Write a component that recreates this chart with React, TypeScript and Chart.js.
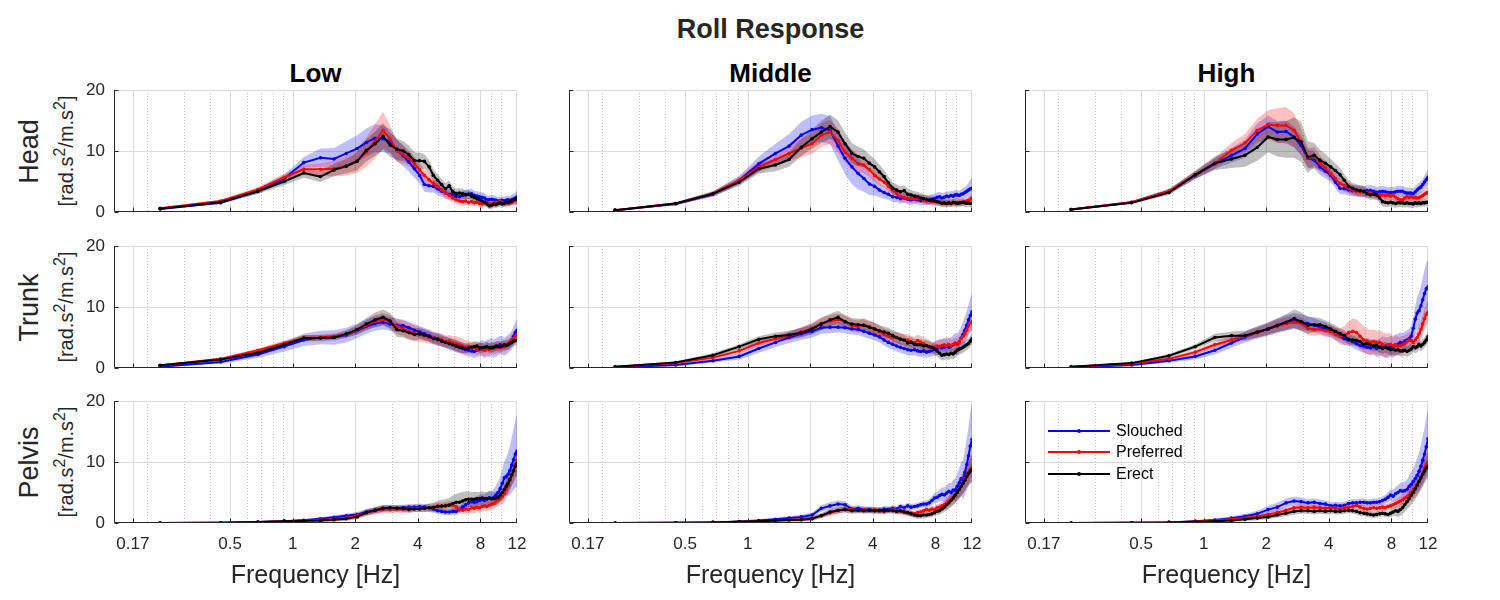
import React, { useEffect, useRef } from 'react';
import { Chart, registerables } from 'chart.js';

Chart.register(...registerables);

// ---------- axes / categories ----------
const FREQ = [
  0.23, 0.45, 0.68, 0.91, 1.13, 1.36, 1.58, 1.81, 2.04, 2.26,
  2.49, 2.72, 2.94, 3.17, 3.40, 3.62, 3.85, 4.08, 4.30, 4.53,
  4.75, 4.98, 5.21, 5.43, 5.66, 5.89, 6.11, 6.34, 6.57, 6.79,
  7.02, 7.25, 7.47, 7.70, 7.92, 8.15, 8.38, 8.60, 8.83, 9.06,
  9.28, 9.51, 9.74, 9.96, 10.19, 10.42, 10.64, 10.87, 11.09, 11.32,
  11.55, 11.77, 12.0,
];
const X_MAJOR = [0.17, 0.5, 1, 2, 4, 8, 12];
const X_MINOR = [0.2, 0.3, 0.4, 0.6, 0.7, 0.8, 0.9, 3, 5, 6, 7, 9, 10];
const Y_TICKS = [0, 10, 20];
const ROWS = ['Head', 'Trunk', 'Pelvis'];
const COLS = ['Low', 'Middle', 'High'];
const POSTURES = ['Slouched', 'Preferred', 'Erect'];
const LINE_COLORS = ['#0000ff', '#ff0000', '#000000'];
const BAND_COLORS = ['rgba(0,0,255,0.25)', 'rgba(255,0,0,0.25)', 'rgba(0,0,0,0.25)'];

// ---------- Head ----------
const HEAD_LOW_S = [
  0.5, 1.5, 3.4, 5.5, 8.1, 8.9, 8.7, 9.6, 10.4, 11.4,
  12.1, 12.0, 11.6, 10.1, 9.2, 8.2, 7.1, 6.0, 4.5, 4.3,
  4.2, 3.8, 3.4, 3.1, 2.9, 2.8, 2.6, 2.5, 2.7, 2.9,
  2.9, 3.0, 2.7, 2.6, 2.5, 2.4, 2.3, 2.0, 2.0, 2.1,
  2.0, 1.9, 1.8, 1.8, 1.9, 1.8, 1.9, 2.0, 1.8, 2.0,
  2.1, 2.2, 2.4,
];
const HEAD_LOW_P = [
  0.6, 1.8, 3.7, 5.7, 7.0, 7.0, 7.1, 7.6, 8.4, 9.8,
  11.6, 13.4, 12.0, 10.0, 9.4, 8.8, 7.9, 6.9, 6.0, 5.3,
  4.7, 4.2, 3.6, 3.1, 2.7, 2.3, 2.0, 1.8, 1.7, 1.8,
  1.6, 1.7, 1.5, 1.6, 1.4, 1.3, 1.5, 1.6, 1.4, 1.3,
  1.4, 1.6, 1.5, 1.7, 1.5, 1.4, 1.5, 1.6, 1.5, 1.6,
  1.8, 1.9, 2.0,
];
const HEAD_LOW_E = [
  0.55, 1.6, 3.4, 5.0, 6.4, 5.8, 6.9, 7.5, 8.3, 10.1,
  11.2, 12.4, 11.0, 10.3, 10.0, 9.4, 8.4, 8.4, 8.3, 7.4,
  6.0, 5.2, 4.5, 3.8, 4.3, 3.3, 3.0, 3.1, 3.0, 2.8,
  2.9, 2.6, 2.4, 2.2, 2.0, 1.8, 1.6, 1.3, 1.0, 1.1,
  1.3, 1.2, 1.4, 1.5, 1.3, 1.4, 1.6, 1.5, 1.7, 1.8,
  2.0, 2.1, 2.2,
];
const HEAD_LOW_S_SD = [
  0.1, 0.2, 0.4, 0.6, 0.9, 1.5, 1.8, 2.0, 2.2, 2.3,
  2.3, 2.2, 2.0, 1.8, 1.7, 1.6, 1.5, 1.3, 1.2, 1.1,
  1.0, 1.0, 0.9, 0.9, 0.9, 0.8, 0.8, 0.8, 0.8, 0.8,
  0.8, 0.8, 0.8, 0.8, 0.8, 0.8, 0.8, 0.7, 0.7, 0.7,
  0.7, 0.7, 0.7, 0.7, 0.7, 0.7, 0.7, 0.7, 0.8, 0.8,
  0.9, 1.0, 1.2,
];
const HEAD_LOW_P_SD = [
  0.1, 0.2, 0.4, 0.6, 0.8, 1.0, 1.3, 1.6, 2.0, 2.4,
  2.8, 3.0, 2.2, 1.8, 1.5, 1.3, 1.2, 1.1, 1.0, 1.0,
  0.9, 0.9, 0.8, 0.8, 0.8, 0.7, 0.7, 0.7, 0.7, 0.6,
  0.6, 0.6, 0.6, 0.6, 0.6, 0.6, 0.6, 0.6, 0.6, 0.6,
  0.6, 0.6, 0.6, 0.6, 0.6, 0.6, 0.6, 0.6, 0.6, 0.6,
  0.7, 0.7, 0.8,
];
const HEAD_LOW_E_SD = [
  0.1, 0.2, 0.4, 0.6, 0.8, 0.9, 1.0, 1.2, 1.5, 1.8,
  2.0, 2.2, 2.0, 1.8, 1.6, 1.5, 1.4, 1.3, 1.2, 1.1,
  1.0, 1.0, 0.9, 0.9, 0.9, 0.8, 0.8, 0.8, 0.8, 0.7,
  0.7, 0.7, 0.7, 0.7, 0.7, 0.7, 0.6, 0.6, 0.6, 0.6,
  0.6, 0.6, 0.6, 0.6, 0.6, 0.6, 0.6, 0.6, 0.6, 0.6,
  0.6, 0.6, 0.7,
];

const HEAD_MID_S = [
  0.3, 1.3, 2.9, 5.2, 7.9, 9.6, 10.8, 12.6, 13.5, 13.8,
  13.4, 10.8, 8.8, 7.4, 6.3, 5.5, 4.6, 4.2, 3.6, 3.2,
  2.9, 2.5, 2.4, 2.2, 2.3, 2.1, 2.0, 2.1, 2.0, 1.9,
  2.0, 1.9, 2.0, 2.1, 2.2, 2.4, 2.5, 2.3, 2.4, 2.6,
  2.5, 2.7, 2.6, 2.8, 2.8, 2.7, 2.9, 3.0, 3.2, 3.4,
  3.6, 3.8, 3.9,
];
const HEAD_MID_P = [
  0.3, 1.4, 3.0, 5.2, 7.4, 8.6, 9.6, 10.5, 11.2, 12.6,
  13.1, 11.7, 9.8, 8.8, 7.9, 7.7, 6.9, 6.0, 5.4, 4.9,
  4.2, 3.6, 3.1, 2.5, 2.4, 2.2, 2.2, 2.1, 2.2, 2.2,
  2.0, 1.8, 1.9, 1.7, 1.8, 1.7, 1.6, 1.5, 1.4, 1.4,
  1.5, 1.4, 1.5, 1.5, 1.6, 1.5, 1.6, 1.6, 1.7, 1.8,
  1.9, 2.1, 2.3,
];
const HEAD_MID_E = [
  0.3, 1.4, 3.0, 4.9, 7.1, 7.7, 8.6, 10.6, 12.0, 13.1,
  14.0, 13.1, 11.2, 9.6, 9.1, 8.8, 8.0, 7.4, 6.6, 5.8,
  4.8, 3.9, 3.6, 3.3, 3.5, 2.9, 2.8, 2.6, 2.5, 2.3,
  2.2, 2.1, 1.9, 2.0, 1.8, 1.7, 1.6, 1.4, 1.5, 1.4,
  1.5, 1.4, 1.6, 1.5, 1.4, 1.5, 1.5, 1.6, 1.5, 1.4,
  1.5, 1.4, 1.4,
];
const HEAD_MID_S_SD = [
  0.1, 0.2, 0.4, 0.7, 1.2, 1.6, 2.0, 2.2, 2.3, 2.3,
  2.3, 2.4, 2.6, 2.8, 2.6, 2.2, 1.8, 1.5, 1.2, 1.0,
  0.9, 0.9, 0.8, 0.8, 0.8, 0.8, 0.8, 0.8, 0.8, 0.8,
  0.8, 0.8, 0.8, 0.8, 0.8, 0.8, 0.8, 0.8, 0.8, 0.8,
  0.8, 0.8, 0.8, 0.8, 0.8, 0.8, 0.8, 0.9, 0.9, 1.0,
  1.2, 1.5, 1.8,
];
const HEAD_MID_P_SD = [
  0.1, 0.2, 0.4, 0.6, 0.9, 1.1, 1.3, 1.5, 1.7, 1.9,
  2.0, 1.9, 1.7, 1.5, 1.4, 1.3, 1.2, 1.1, 1.0, 0.9,
  0.9, 0.8, 0.8, 0.8, 0.8, 0.7, 0.7, 0.7, 0.7, 0.7,
  0.6, 0.6, 0.6, 0.6, 0.6, 0.6, 0.6, 0.6, 0.6, 0.6,
  0.6, 0.6, 0.6, 0.6, 0.6, 0.6, 0.6, 0.6, 0.6, 0.6,
  0.6, 0.7, 0.7,
];
const HEAD_MID_E_SD = [
  0.1, 0.2, 0.4, 0.6, 0.8, 1.0, 1.2, 1.4, 1.6, 1.8,
  2.0, 1.9, 1.8, 1.7, 1.6, 1.5, 1.4, 1.3, 1.2, 1.1,
  1.0, 1.0, 0.9, 0.9, 0.9, 0.9, 0.8, 0.8, 0.8, 0.8,
  0.8, 0.7, 0.7, 0.7, 0.7, 0.7, 0.6, 0.6, 0.6, 0.6,
  0.6, 0.6, 0.6, 0.6, 0.6, 0.6, 0.6, 0.6, 0.6, 0.6,
  0.6, 0.6, 0.6,
];

const HEAD_HIGH_S = [
  0.4, 1.6, 3.4, 6.0, 7.9, 9.3, 10.4, 12.8, 14.0, 13.1,
  13.2, 12.3, 10.9, 8.8, 8.5, 7.4, 6.7, 6.0, 4.9, 3.9,
  3.8, 3.6, 3.5, 3.5, 3.4, 3.4, 3.5, 3.5, 3.4, 3.2,
  3.3, 3.4, 3.3, 3.2, 3.2, 3.2, 3.3, 3.4, 3.4, 3.4,
  3.2, 3.1, 3.1, 3.1, 3.0, 3.3, 3.6, 3.9, 4.1, 4.5,
  4.9, 5.3, 5.7,
];
const HEAD_HIGH_P = [
  0.4, 1.6, 3.4, 6.1, 8.0, 10.1, 11.3, 13.4, 14.3, 14.2,
  14.2, 13.4, 11.5, 8.8, 9.1, 8.0, 7.2, 6.3, 5.5, 4.7,
  4.3, 3.9, 3.6, 3.4, 3.3, 3.2, 3.1, 3.1, 2.9, 2.8,
  2.8, 2.8, 2.7, 2.8, 2.6, 2.8, 2.4, 2.2, 2.0, 2.0,
  2.3, 2.5, 2.4, 2.5, 2.3, 2.4, 2.3, 2.4, 2.5, 2.7,
  2.9, 3.1, 3.2,
];
const HEAD_HIGH_E = [
  0.4, 1.5, 3.2, 6.1, 8.0, 8.7, 9.3, 10.6, 12.3, 11.9,
  11.9, 12.2, 11.5, 9.0, 9.3, 8.5, 8.0, 7.4, 6.8, 6.1,
  5.2, 4.2, 3.9, 3.6, 3.5, 3.4, 3.0, 2.8, 2.9, 2.8,
  2.3, 1.7, 1.6, 1.5, 1.6, 1.5, 1.4, 1.5, 1.5, 1.5,
  1.4, 1.5, 1.4, 1.4, 1.3, 1.5, 1.4, 1.5, 1.4, 1.5,
  1.5, 1.6, 1.6,
];
const HEAD_HIGH_S_SD = [
  0.1, 0.2, 0.4, 0.6, 0.9, 1.2, 1.5, 1.7, 1.8, 1.8,
  1.8, 1.7, 1.6, 1.5, 1.4, 1.3, 1.2, 1.1, 1.0, 1.0,
  0.9, 0.9, 0.9, 0.9, 0.9, 0.9, 0.9, 0.9, 0.9, 0.9,
  0.9, 0.9, 0.9, 0.9, 0.9, 0.9, 0.9, 0.9, 0.9, 0.9,
  0.9, 0.9, 0.9, 0.9, 0.9, 0.9, 0.9, 0.9, 1.0, 1.0,
  1.1, 1.2, 1.3,
];
const HEAD_HIGH_P_SD = [
  0.1, 0.2, 0.4, 0.6, 0.9, 1.2, 1.5, 1.9, 2.4, 2.8,
  3.0, 2.8, 2.2, 1.7, 1.5, 1.3, 1.2, 1.1, 1.0, 1.0,
  0.9, 0.9, 0.9, 0.9, 0.9, 0.8, 0.8, 0.8, 0.8, 0.8,
  0.8, 0.8, 0.8, 0.8, 0.8, 0.8, 0.8, 0.8, 0.8, 0.8,
  0.8, 0.8, 0.8, 0.8, 0.8, 0.8, 0.8, 0.8, 0.8, 0.8,
  0.9, 0.9, 1.0,
];
const HEAD_HIGH_E_SD = [
  0.1, 0.2, 0.4, 0.7, 1.1, 1.5, 1.9, 2.2, 2.5, 2.8,
  3.0, 3.3, 3.3, 2.6, 2.0, 1.7, 1.5, 1.3, 1.2, 1.1,
  1.0, 1.0, 0.9, 0.9, 0.9, 0.9, 0.8, 0.8, 0.8, 0.8,
  0.8, 0.8, 0.8, 0.7, 0.7, 0.7, 0.7, 0.7, 0.7, 0.7,
  0.7, 0.7, 0.7, 0.7, 0.7, 0.7, 0.7, 0.7, 0.6, 0.6,
  0.6, 0.6, 0.6,
];

// ---------- Trunk ----------
const TRUNK_LOW_S = [
  0.2, 1.0, 2.2, 3.5, 4.6, 5.0, 5.0, 5.4, 6.1, 6.8,
  7.3, 7.5, 7.2, 7.0, 6.9, 6.6, 6.2, 5.9, 5.6, 5.3,
  5.0, 4.8, 4.5, 4.3, 4.0, 3.8, 3.6, 3.4, 3.2, 3.0,
  2.9, 2.8, 2.7, 2.9, 3.1, 3.3, 3.0, 3.2, 3.3, 3.4,
  3.2, 3.4, 3.6, 3.8, 3.7, 3.5, 3.7, 3.9, 4.2, 4.6,
  5.2, 5.8, 6.2,
];
const TRUNK_LOW_P = [
  0.4, 1.5, 2.9, 4.1, 4.9, 5.0, 5.2, 5.5, 6.2, 7.0,
  7.7, 8.0, 7.6, 6.8, 6.5, 6.0, 5.7, 5.5, 5.3, 5.0,
  4.9, 4.6, 4.7, 4.3, 4.4, 4.1, 4.0, 3.8, 3.6, 3.4,
  3.5, 3.2, 3.4, 3.0, 3.3, 3.1, 2.9, 3.2, 3.0, 3.4,
  3.2, 3.3, 3.5, 3.4, 3.6, 3.5, 3.8, 4.0, 4.2, 4.6,
  4.8, 5.2, 5.5,
];
const TRUNK_LOW_E = [
  0.45, 1.4, 2.5, 3.8, 4.9, 4.9, 5.0, 5.6, 6.3, 7.2,
  7.9, 8.3, 7.7, 6.3, 6.1, 5.8, 5.5, 5.6, 5.4, 5.2,
  4.8, 4.7, 4.4, 4.2, 4.0, 3.8, 3.6, 3.4, 3.3, 3.2,
  3.3, 3.4, 3.5, 3.6, 3.3, 3.3, 3.4, 3.5, 3.3, 3.3,
  3.4, 3.6, 3.5, 3.5, 3.6, 3.8, 3.7, 3.8, 4.0, 4.2,
  4.4, 4.5, 4.5,
];
const TRUNK_LOW_S_SD = [
  0.1, 0.3, 0.5, 0.8, 1.0, 1.1, 1.2, 1.2, 1.2, 1.2,
  1.2, 1.2, 1.1, 1.1, 1.0, 1.0, 1.0, 1.0, 1.0, 1.0,
  1.0, 1.0, 1.0, 1.0, 1.0, 1.0, 1.0, 1.0, 1.0, 1.0,
  1.0, 1.0, 1.1, 1.1, 1.2, 1.3, 1.4, 1.4, 1.5, 1.5,
  1.5, 1.5, 1.5, 1.5, 1.5, 1.5, 1.5, 1.5, 1.5, 1.5,
  1.6, 1.7, 1.8,
];
const TRUNK_LOW_P_SD = [
  0.1, 0.2, 0.3, 0.4, 0.5, 0.5, 0.5, 0.6, 0.7, 0.8,
  1.0, 1.0, 1.1, 1.2, 1.3, 1.4, 1.3, 1.2, 1.1, 1.0,
  1.0, 1.0, 1.0, 1.0, 1.0, 1.1, 1.2, 1.2, 1.2, 1.1,
  1.1, 1.0, 1.0, 1.0, 1.0, 1.0, 1.0, 1.0, 1.0, 1.0,
  1.0, 1.0, 1.0, 1.0, 1.0, 1.0, 1.0, 1.0, 1.0, 1.0,
  1.0, 1.0, 1.0,
];
const TRUNK_LOW_E_SD = [
  0.1, 0.2, 0.3, 0.4, 0.5, 0.5, 0.5, 0.6, 0.8, 1.0,
  1.2, 1.3, 1.3, 1.2, 1.1, 1.0, 1.0, 0.9, 0.9, 0.9,
  0.9, 0.9, 0.9, 0.9, 0.9, 0.9, 0.9, 0.9, 0.9, 0.8,
  0.8, 0.8, 0.8, 0.8, 0.8, 0.8, 0.8, 0.8, 0.8, 0.8,
  0.8, 0.8, 0.8, 0.8, 0.8, 0.8, 0.8, 0.8, 0.8, 0.8,
  0.8, 0.8, 0.8,
];

const TRUNK_MID_S = [
  0.1, 0.5, 1.2, 1.9, 3.2, 4.2, 5.0, 5.6, 6.0, 6.6,
  6.7, 6.7, 6.6, 6.4, 6.3, 6.0, 5.7, 5.4, 5.1, 4.6,
  4.2, 3.9, 3.6, 3.4, 3.2, 3.0, 2.9, 3.0, 2.8, 2.7,
  2.8, 2.6, 2.7, 2.9, 3.1, 3.3, 3.5, 3.3, 3.4, 3.6,
  3.4, 3.6, 3.8, 4.0, 3.9, 4.3, 4.9, 5.5, 6.2, 7.0,
  7.9, 8.6, 9.2,
];
const TRUNK_MID_P = [
  0.2, 0.8, 1.7, 2.8, 4.1, 4.8, 5.3, 5.9, 6.5, 7.3,
  7.7, 7.9, 7.6, 7.0, 6.8, 7.1, 6.7, 6.4, 6.0, 5.5,
  5.2, 5.0, 4.9, 4.8, 4.5, 4.6, 4.3, 4.1, 4.5, 4.2,
  4.0, 3.7, 3.5, 3.2, 3.4, 3.6, 3.5, 3.7, 3.8, 3.6,
  3.9, 3.7, 3.8, 4.1, 3.9, 4.3, 4.8, 5.2, 5.6, 6.2,
  6.9, 7.4, 7.6,
];
const TRUNK_MID_E = [
  0.2, 0.9, 2.1, 3.5, 4.7, 5.2, 5.4, 5.8, 6.4, 7.2,
  7.9, 8.3, 7.6, 7.2, 7.1, 7.0, 6.7, 6.4, 6.1, 5.9,
  5.7, 5.3, 5.0, 4.7, 4.6, 4.1, 4.2, 3.9, 3.8, 3.8,
  3.6, 3.7, 3.5, 3.4, 3.1, 2.8, 2.4, 2.1, 2.2, 2.3,
  2.2, 2.4, 2.3, 2.6, 2.9, 3.1, 3.2, 3.4, 3.6, 3.8,
  4.0, 4.4, 4.8,
];
const TRUNK_MID_S_SD = [
  0.1, 0.2, 0.3, 0.5, 0.7, 0.8, 0.9, 1.0, 1.0, 1.0,
  1.0, 0.9, 0.9, 0.9, 0.9, 0.9, 0.9, 0.9, 0.9, 0.9,
  0.9, 0.9, 0.9, 0.9, 0.9, 0.9, 0.9, 0.9, 0.9, 0.9,
  0.9, 0.9, 0.9, 1.0, 1.1, 1.2, 1.3, 1.4, 1.5, 1.5,
  1.5, 1.5, 1.6, 1.7, 1.8, 1.9, 2.0, 2.1, 2.2, 2.3,
  2.5, 2.8, 3.0,
];
const TRUNK_MID_P_SD = [
  0.1, 0.2, 0.3, 0.4, 0.5, 0.6, 0.7, 0.8, 0.9, 1.0,
  1.0, 1.0, 1.0, 1.0, 1.0, 1.1, 1.1, 1.0, 1.0, 1.0,
  1.0, 1.0, 1.0, 1.0, 1.0, 1.0, 1.0, 1.0, 1.0, 1.1,
  1.1, 1.1, 1.1, 1.0, 1.0, 1.0, 1.0, 1.0, 1.0, 1.0,
  1.0, 1.0, 1.0, 1.0, 1.0, 1.0, 1.0, 1.1, 1.1, 1.2,
  1.3, 1.4, 1.5,
];
const TRUNK_MID_E_SD = [
  0.1, 0.2, 0.3, 0.4, 0.5, 0.6, 0.7, 0.8, 0.9, 1.0,
  1.0, 1.1, 1.1, 1.0, 1.0, 1.0, 1.0, 1.0, 0.9, 0.9,
  0.9, 0.9, 0.9, 0.9, 0.9, 0.9, 0.9, 0.9, 0.9, 0.9,
  0.9, 0.9, 0.9, 0.9, 0.9, 0.9, 0.9, 0.9, 0.9, 0.9,
  0.9, 0.9, 0.9, 0.9, 0.9, 0.9, 0.9, 0.9, 0.9, 0.9,
  0.9, 0.9, 0.9,
];

const TRUNK_HIGH_S = [
  0.1, 0.5, 1.2, 1.9, 2.9, 4.1, 5.1, 5.8, 6.4, 6.9,
  7.4, 7.7, 7.5, 7.3, 7.0, 6.7, 6.4, 6.1, 5.6, 5.2,
  4.8, 4.6, 4.3, 4.0, 3.7, 3.6, 3.4, 3.3, 3.5, 3.2,
  3.4, 3.6, 3.4, 3.3, 3.6, 3.4, 3.8, 3.9, 4.2, 4.1,
  4.4, 4.6, 4.8, 5.2, 6.5, 8.0, 9.0, 9.4, 10.2, 11.2,
  12.2, 13.0, 13.3,
];
const TRUNK_HIGH_P = [
  0.2, 0.7, 1.5, 2.6, 3.8, 4.6, 5.2, 5.8, 6.4, 6.9,
  7.3, 7.5, 7.3, 6.5, 6.3, 6.4, 6.1, 6.0, 5.6, 5.2,
  5.3, 5.8, 6.0, 5.8, 5.2, 4.6, 4.4, 4.2, 4.3, 4.1,
  4.2, 3.9, 3.7, 3.8, 3.9, 3.6, 3.8, 3.6, 3.7, 3.8,
  4.0, 4.3, 4.6, 4.5, 4.2, 4.6, 5.0, 5.6, 6.3, 7.2,
  8.1, 8.8, 9.1,
];
const TRUNK_HIGH_E = [
  0.2, 0.8, 2.0, 3.5, 5.0, 5.3, 5.3, 5.9, 6.4, 7.0,
  7.5, 8.1, 7.6, 7.0, 7.1, 7.1, 6.8, 6.4, 6.0, 5.6,
  5.3, 4.7, 4.6, 4.5, 4.3, 3.9, 4.0, 3.8, 3.6, 3.7,
  3.4, 3.2, 3.4, 3.2, 3.0, 3.1, 2.9, 3.0, 2.8, 2.8,
  2.9, 2.7, 2.9, 3.1, 3.5, 3.3, 3.5, 3.9, 3.6, 3.9,
  4.2, 4.6, 5.1,
];
const TRUNK_HIGH_S_SD = [
  0.1, 0.2, 0.3, 0.5, 0.7, 0.8, 0.9, 1.0, 1.1, 1.2,
  1.3, 1.3, 1.3, 1.2, 1.2, 1.1, 1.1, 1.0, 1.0, 1.0,
  1.0, 1.0, 1.0, 1.0, 1.0, 1.0, 1.1, 1.2, 1.3, 1.4,
  1.5, 1.6, 1.7, 1.7, 1.7, 1.7, 1.7, 1.7, 1.7, 1.6,
  1.6, 1.6, 1.6, 1.6, 1.8, 2.2, 2.6, 3.0, 3.3, 3.6,
  3.9, 4.2, 4.5,
];
const TRUNK_HIGH_P_SD = [
  0.1, 0.2, 0.3, 0.4, 0.5, 0.6, 0.7, 0.8, 0.9, 1.0,
  1.0, 1.0, 1.0, 1.0, 1.0, 1.0, 1.0, 1.0, 1.1, 1.3,
  1.6, 1.9, 2.1, 2.2, 2.2, 2.2, 2.1, 2.0, 2.0, 2.0,
  2.0, 2.0, 2.0, 1.9, 1.8, 1.7, 1.6, 1.5, 1.5, 1.4,
  1.4, 1.3, 1.3, 1.3, 1.3, 1.3, 1.3, 1.4, 1.5, 1.6,
  1.7, 1.8, 1.9,
];
const TRUNK_HIGH_E_SD = [
  0.1, 0.2, 0.3, 0.4, 0.6, 0.7, 0.8, 0.9, 1.0, 1.1,
  1.3, 1.5, 1.6, 1.4, 1.2, 1.1, 1.0, 1.0, 1.0, 0.9,
  0.9, 0.9, 0.9, 0.9, 0.9, 0.9, 0.9, 0.9, 0.9, 0.9,
  0.9, 0.9, 0.9, 0.9, 0.9, 0.9, 0.9, 0.9, 0.9, 0.9,
  0.9, 0.9, 0.9, 0.9, 0.9, 0.9, 0.9, 0.9, 0.9, 0.9,
  0.9, 0.9, 0.9,
];

// ---------- Pelvis ----------
const PELVIS_LOW_S = [
  0.0, 0.05, 0.15, 0.3, 0.45, 0.7, 0.95, 1.2, 1.4, 1.8,
  2.1, 2.3, 2.4, 2.4, 2.5, 2.6, 2.6, 2.7, 2.6, 2.5,
  2.3, 2.0, 1.9, 1.8, 1.8, 1.9, 1.9, 2.2, 2.6, 3.0,
  3.3, 3.5, 3.4, 3.5, 3.7, 3.8, 3.7, 3.9, 4.1, 4.0,
  4.2, 4.6, 5.0, 5.6, 6.5, 7.4, 7.6, 8.0, 8.6, 9.5,
  10.4, 11.3, 11.8,
];
const PELVIS_LOW_P = [
  0.0, 0.05, 0.15, 0.3, 0.4, 0.5, 0.6, 0.8, 1.2, 1.7,
  2.0, 2.3, 2.2, 2.3, 2.2, 2.3, 2.4, 2.4, 2.4, 2.5,
  2.6, 2.8, 2.7, 2.9, 3.0, 2.9, 2.7, 2.2, 2.1, 2.3,
  2.2, 2.5, 2.4, 2.6, 2.5, 2.7, 2.8, 2.7, 2.9, 3.1,
  3.2, 3.6, 3.8, 4.0, 4.3, 4.8, 5.5, 6.2, 7.0, 7.8,
  8.5, 9.5, 10.2,
];
const PELVIS_LOW_E = [
  0.0, 0.05, 0.15, 0.3, 0.35, 0.4, 0.55, 0.7, 1.0, 1.7,
  2.1, 2.4, 2.5, 2.4, 2.4, 2.2, 2.3, 2.3, 2.4, 2.5,
  2.5, 2.7, 2.8, 2.8, 2.9, 3.2, 3.4, 3.4, 3.6, 3.8,
  3.9, 3.9, 3.9, 4.0, 4.0, 4.1, 4.0, 4.0, 4.1, 4.0,
  4.0, 4.1, 4.2, 4.6, 5.0, 5.5, 6.0, 6.5, 7.2, 7.9,
  8.6, 9.3, 9.8,
];
const PELVIS_LOW_S_SD = [
  0.02, 0.05, 0.1, 0.15, 0.2, 0.25, 0.3, 0.35, 0.4, 0.5,
  0.5, 0.5, 0.5, 0.5, 0.5, 0.5, 0.5, 0.5, 0.5, 0.5,
  0.5, 0.5, 0.5, 0.5, 0.5, 0.5, 0.6, 0.6, 0.7, 0.7,
  0.8, 0.8, 0.8, 0.9, 0.9, 1.0, 1.0, 1.1, 1.2, 1.3,
  1.4, 1.6, 1.8, 2.0, 2.3, 2.7, 3.1, 3.5, 4.0, 4.5,
  5.0, 5.5, 6.0,
];
const PELVIS_LOW_P_SD = [
  0.02, 0.05, 0.1, 0.15, 0.2, 0.25, 0.3, 0.35, 0.4, 0.5,
  0.6, 0.7, 0.6, 0.6, 0.6, 0.6, 0.6, 0.6, 0.6, 0.6,
  0.6, 0.6, 0.6, 0.6, 0.6, 0.6, 0.6, 0.6, 0.6, 0.7,
  0.7, 0.8, 0.8, 0.8, 0.8, 0.8, 0.8, 0.8, 0.8, 0.9,
  0.9, 1.0, 1.0, 1.1, 1.2, 1.3, 1.4, 1.5, 1.6, 1.7,
  1.8, 1.9, 2.0,
];
const PELVIS_LOW_E_SD = [
  0.02, 0.05, 0.1, 0.15, 0.2, 0.25, 0.3, 0.35, 0.4, 0.5,
  0.5, 0.5, 0.5, 0.5, 0.5, 0.5, 0.5, 0.5, 0.6, 0.7,
  0.8, 0.9, 1.0, 1.1, 1.2, 1.3, 1.4, 1.5, 1.5, 1.4,
  1.3, 1.2, 1.2, 1.1, 1.1, 1.1, 1.1, 1.1, 1.1, 1.1,
  1.1, 1.1, 1.1, 1.2, 1.3, 1.4, 1.5, 1.6, 1.7, 1.8,
  1.9, 2.0, 2.1,
];

const PELVIS_MID_S = [
  0.0, 0.05, 0.1, 0.25, 0.4, 0.6, 0.8, 1.0, 1.3, 2.4,
  2.8, 3.1, 3.0, 2.3, 2.4, 2.2, 2.2, 2.1, 2.0, 2.3,
  2.2, 2.4, 2.3, 2.7, 2.5, 2.8, 2.6, 2.7, 2.8, 3.0,
  3.1, 3.1, 3.3, 3.7, 4.1, 4.2, 4.5, 4.7, 4.6, 4.9,
  5.2, 5.0, 5.4, 5.4, 6.0, 6.6, 7.3, 7.1, 8.3, 9.6,
  11.0, 12.6, 13.7,
];
const PELVIS_MID_P = [
  0.0, 0.05, 0.1, 0.2, 0.3, 0.4, 0.5, 0.6, 0.8, 1.2,
  1.7, 2.0, 2.3, 2.2, 2.1, 2.2, 2.1, 2.2, 2.0, 1.9,
  2.1, 2.2, 2.0, 1.9, 1.8, 1.7, 1.6, 1.5, 1.7, 1.8,
  2.0, 2.2, 2.1, 2.3, 2.2, 2.5, 2.6, 2.8, 3.0, 3.2,
  3.5, 3.8, 4.2, 4.5, 5.0, 5.5, 6.0, 6.6, 7.2, 7.8,
  8.3, 8.8, 9.2,
];
const PELVIS_MID_E = [
  0.0, 0.05, 0.1, 0.2, 0.3, 0.4, 0.5, 0.55, 0.7, 1.2,
  1.8, 2.1, 2.2, 2.0, 2.1, 2.0, 2.1, 2.0, 2.1, 2.0,
  2.1, 2.0, 1.9, 2.0, 1.8, 1.7, 1.5, 1.3, 1.2, 1.2,
  1.3, 1.3, 1.4, 1.5, 1.7, 1.9, 2.0, 2.3, 2.6, 3.0,
  3.3, 3.7, 4.1, 4.6, 5.0, 5.5, 6.0, 6.5, 7.0, 7.6,
  8.1, 8.5, 8.8,
];
const PELVIS_MID_S_SD = [
  0.02, 0.05, 0.1, 0.15, 0.2, 0.25, 0.3, 0.35, 0.4, 0.5,
  0.6, 0.6, 0.6, 0.5, 0.5, 0.5, 0.5, 0.5, 0.5, 0.5,
  0.5, 0.5, 0.5, 0.5, 0.5, 0.5, 0.5, 0.5, 0.5, 0.5,
  0.5, 0.6, 0.6, 0.7, 0.8, 0.9, 1.0, 1.1, 1.2, 1.3,
  1.4, 1.5, 1.7, 1.9, 2.1, 2.4, 2.8, 3.2, 3.7, 4.2,
  4.8, 5.4, 6.0,
];
const PELVIS_MID_P_SD = [
  0.02, 0.05, 0.1, 0.15, 0.2, 0.2, 0.25, 0.3, 0.35, 0.4,
  0.5, 0.5, 0.5, 0.5, 0.5, 0.5, 0.5, 0.5, 0.5, 0.5,
  0.5, 0.5, 0.5, 0.5, 0.5, 0.5, 0.5, 0.5, 0.5, 0.5,
  0.5, 0.5, 0.5, 0.5, 0.5, 0.6, 0.6, 0.7, 0.8, 0.9,
  1.0, 1.1, 1.2, 1.3, 1.4, 1.5, 1.6, 1.7, 1.8, 1.9,
  2.0, 2.2, 2.4,
];
const PELVIS_MID_E_SD = [
  0.02, 0.05, 0.1, 0.15, 0.2, 0.2, 0.25, 0.3, 0.35, 0.4,
  0.5, 0.5, 0.5, 0.5, 0.5, 0.5, 0.5, 0.5, 0.5, 0.5,
  0.5, 0.5, 0.5, 0.5, 0.5, 0.5, 0.5, 0.5, 0.5, 0.5,
  0.5, 0.5, 0.5, 0.5, 0.5, 0.6, 0.6, 0.7, 0.8, 0.9,
  1.0, 1.1, 1.2, 1.3, 1.4, 1.5, 1.6, 1.7, 1.8, 1.9,
  2.0, 2.1, 2.2,
];

const PELVIS_HIGH_S = [
  0.0, 0.05, 0.1, 0.3, 0.5, 0.8, 1.1, 1.5, 2.2, 2.6,
  3.3, 3.6, 3.5, 3.3, 3.4, 3.2, 3.1, 2.8, 2.9, 2.8,
  2.9, 3.2, 3.3, 3.3, 3.4, 3.4, 3.3, 3.3, 3.4, 3.4,
  3.5, 3.7, 3.9, 4.2, 4.6, 4.4, 4.8, 5.0, 5.3, 5.2,
  5.3, 5.5, 6.0, 6.3, 6.8, 7.3, 7.8, 8.5, 9.3, 10.3,
  11.3, 12.5, 13.8,
];
const PELVIS_HIGH_P = [
  0.0, 0.05, 0.1, 0.25, 0.4, 0.6, 0.8, 1.1, 1.4, 1.7,
  2.1, 2.5, 2.6, 2.5, 2.6, 2.5, 2.4, 2.5, 2.4, 2.3,
  2.5, 2.6, 2.7, 2.9, 2.6, 2.4, 2.3, 2.4, 2.5, 2.4,
  2.5, 2.6, 2.5, 2.7, 2.8, 3.0, 3.2, 3.4, 3.6, 3.8,
  4.1, 4.3, 4.6, 5.0, 5.4, 5.8, 6.3, 6.9, 7.5, 8.2,
  9.0, 9.6, 10.0,
];
const PELVIS_HIGH_E = [
  0.0, 0.05, 0.1, 0.2, 0.3, 0.4, 0.6, 0.8, 1.0, 1.3,
  1.6, 1.9, 2.0, 2.0, 1.9, 2.0, 1.9, 2.0, 1.9, 1.9,
  2.0, 2.1, 2.0, 1.9, 1.7, 1.6, 1.5, 1.4, 1.3, 1.4,
  1.5, 1.6, 1.5, 1.4, 1.6, 1.8, 2.0, 1.9, 2.2, 2.5,
  3.0, 3.5, 4.0, 4.5, 5.0, 5.6, 6.2, 6.8, 7.4, 8.0,
  8.5, 9.0, 9.3,
];
const PELVIS_HIGH_S_SD = [
  0.02, 0.05, 0.1, 0.15, 0.2, 0.3, 0.4, 0.5, 0.6, 0.7,
  0.7, 0.7, 0.7, 0.6, 0.6, 0.6, 0.6, 0.6, 0.6, 0.6,
  0.6, 0.6, 0.6, 0.6, 0.6, 0.6, 0.6, 0.6, 0.6, 0.6,
  0.6, 0.7, 0.7, 0.8, 0.9, 1.0, 1.1, 1.2, 1.3, 1.4,
  1.5, 1.6, 1.8, 2.0, 2.2, 2.5, 2.8, 3.1, 3.5, 3.9,
  4.3, 4.7, 5.0,
];
const PELVIS_HIGH_P_SD = [
  0.02, 0.05, 0.1, 0.15, 0.2, 0.25, 0.3, 0.35, 0.4, 0.5,
  0.5, 0.5, 0.5, 0.5, 0.5, 0.5, 0.5, 0.5, 0.5, 0.5,
  0.5, 0.5, 0.5, 0.5, 0.6, 0.6, 0.7, 0.7, 0.7, 0.7,
  0.6, 0.6, 0.6, 0.6, 0.6, 0.6, 0.7, 0.8, 0.9, 1.0,
  1.1, 1.2, 1.3, 1.4, 1.5, 1.6, 1.7, 1.8, 1.9, 2.0,
  2.1, 2.2, 2.3,
];
const PELVIS_HIGH_E_SD = [
  0.02, 0.05, 0.1, 0.15, 0.2, 0.25, 0.3, 0.35, 0.4, 0.45,
  0.5, 0.5, 0.5, 0.5, 0.5, 0.5, 0.5, 0.5, 0.5, 0.5,
  0.5, 0.5, 0.5, 0.5, 0.5, 0.5, 0.5, 0.5, 0.5, 0.5,
  0.5, 0.5, 0.5, 0.5, 0.6, 0.7, 0.8, 0.9, 1.0, 1.1,
  1.2, 1.3, 1.4, 1.5, 1.6, 1.7, 1.8, 1.9, 2.0, 2.0,
  2.0, 2.0, 2.0,
];

// table built from the named arrays: [row][col] -> {mean: [S,P,E], sd: [S,P,E]}
const PANELS = [
  [
    { mean: [HEAD_LOW_S, HEAD_LOW_P, HEAD_LOW_E], sd: [HEAD_LOW_S_SD, HEAD_LOW_P_SD, HEAD_LOW_E_SD] },
    { mean: [HEAD_MID_S, HEAD_MID_P, HEAD_MID_E], sd: [HEAD_MID_S_SD, HEAD_MID_P_SD, HEAD_MID_E_SD] },
    { mean: [HEAD_HIGH_S, HEAD_HIGH_P, HEAD_HIGH_E], sd: [HEAD_HIGH_S_SD, HEAD_HIGH_P_SD, HEAD_HIGH_E_SD] },
  ],
  [
    { mean: [TRUNK_LOW_S, TRUNK_LOW_P, TRUNK_LOW_E], sd: [TRUNK_LOW_S_SD, TRUNK_LOW_P_SD, TRUNK_LOW_E_SD] },
    { mean: [TRUNK_MID_S, TRUNK_MID_P, TRUNK_MID_E], sd: [TRUNK_MID_S_SD, TRUNK_MID_P_SD, TRUNK_MID_E_SD] },
    { mean: [TRUNK_HIGH_S, TRUNK_HIGH_P, TRUNK_HIGH_E], sd: [TRUNK_HIGH_S_SD, TRUNK_HIGH_P_SD, TRUNK_HIGH_E_SD] },
  ],
  [
    { mean: [PELVIS_LOW_S, PELVIS_LOW_P, PELVIS_LOW_E], sd: [PELVIS_LOW_S_SD, PELVIS_LOW_P_SD, PELVIS_LOW_E_SD] },
    { mean: [PELVIS_MID_S, PELVIS_MID_P, PELVIS_MID_E], sd: [PELVIS_MID_S_SD, PELVIS_MID_P_SD, PELVIS_MID_E_SD] },
    { mean: [PELVIS_HIGH_S, PELVIS_HIGH_P, PELVIS_HIGH_E], sd: [PELVIS_HIGH_S_SD, PELVIS_HIGH_P_SD, PELVIS_HIGH_E_SD] },
  ],
];

// ---------- layout ----------
const FONT = '"Liberation Sans", Arial, Helvetica, sans-serif';
const COL_LEFT = [114, 569, 1025];
const ROW_TOP = [90, 246, 401];
const PLOT_W = 403;
const PLOT_H = 122;
const Y_AXIS_W = 60;
const PAD_TOP = 22;
const PAD_RIGHT = 25;

const matlabAxes = {
  id: 'matlabAxes',
  beforeDatasetsDraw(chart: any) {
    const { ctx, chartArea: a, scales } = chart;
    const x = scales.x;
    const y = scales.y;
    ctx.save();
    ctx.lineWidth = 1;
    ctx.strokeStyle = '#c8c8c8';
    ctx.setLineDash([1, 2]);
    for (const v of X_MINOR) {
      const px = Math.round(x.getPixelForValue(v)) + 0.5;
      ctx.beginPath();
      ctx.moveTo(px, a.top);
      ctx.lineTo(px, a.bottom);
      ctx.stroke();
    }
    ctx.setLineDash([]);
    ctx.strokeStyle = '#dcdcdc';
    for (const v of X_MAJOR) {
      let px = Math.round(x.getPixelForValue(v)) + 0.5;
      if (px > a.right) px = a.right - 0.5;
      ctx.beginPath();
      ctx.moveTo(px, a.top);
      ctx.lineTo(px, a.bottom);
      ctx.stroke();
    }
    for (const v of Y_TICKS) {
      if (v === 0) continue;
      let py = Math.round(y.getPixelForValue(v)) + 0.5;
      ctx.beginPath();
      ctx.moveTo(a.left, py);
      ctx.lineTo(a.right, py);
      ctx.stroke();
    }
    ctx.restore();
  },
  afterDatasetsDraw(chart: any) {
    const { ctx, chartArea: a, scales } = chart;
    const x = scales.x;
    const y = scales.y;
    ctx.save();
    ctx.lineWidth = 1;
    ctx.strokeStyle = '#262626';
    const L = Math.round(a.left) + 0.5;
    const B = Math.round(a.bottom) - 0.5;
    ctx.beginPath();
    ctx.moveTo(L, a.top);
    ctx.lineTo(L, B);
    ctx.lineTo(a.right, B);
    ctx.stroke();
    for (const v of Y_TICKS) {
      const py = Math.round(y.getPixelForValue(v)) + 0.5;
      ctx.beginPath();
      ctx.moveTo(L, py);
      ctx.lineTo(L + 4, py);
      ctx.stroke();
    }
    for (const v of X_MAJOR) {
      let px = Math.round(x.getPixelForValue(v)) + 0.5;
      if (px > a.right) px = a.right - 0.5;
      ctx.beginPath();
      ctx.moveTo(px, B);
      ctx.lineTo(px, B - 4);
      ctx.stroke();
    }
    ctx.restore();
  },
};

function Panel({ row, col }: { row: number; col: number }) {
  const ref = useRef<HTMLCanvasElement | null>(null);
  const isBottom = row === 2;
  const isLeft = col === 0;
  const xH = isBottom ? 68 : 22;
  const width = Y_AXIS_W + PLOT_W + PAD_RIGHT;
  const height = PAD_TOP + PLOT_H + xH;

  useEffect(() => {
    const canvas = ref.current;
    if (!canvas) return;
    const panel = PANELS[row][col];
    const datasets: any[] = [];
    // lines: first dataset is drawn on top -> Erect, Preferred, Slouched
    [2, 1, 0].forEach((s) => {
      datasets.push({
        label: POSTURES[s],
        data: FREQ.map((f, i) => ({ x: f, y: panel.mean[s][i] })),
        borderColor: LINE_COLORS[s],
        backgroundColor: LINE_COLORS[s],
        borderWidth: 2,
        pointRadius: 1.8,
        pointBorderWidth: 0,
        pointBackgroundColor: LINE_COLORS[s],
        fill: false,
        tension: 0,
      });
    });
    // bands (mean ± sd): Erect band drawn above Preferred above Slouched
    [2, 1, 0].forEach((s) => {
      const upperIndex = datasets.length;
      datasets.push({
        label: POSTURES[s] + ' upper',
        data: FREQ.map((f, i) => ({ x: f, y: panel.mean[s][i] + panel.sd[s][i] })),
        borderWidth: 0,
        pointRadius: 0,
        backgroundColor: BAND_COLORS[s],
        borderColor: 'rgba(0,0,0,0)',
        fill: upperIndex + 1,
        tension: 0,
      });
      datasets.push({
        label: POSTURES[s] + ' lower',
        data: FREQ.map((f, i) => ({ x: f, y: Math.max(0, panel.mean[s][i] - panel.sd[s][i]) })),
        borderWidth: 0,
        pointRadius: 0,
        borderColor: 'rgba(0,0,0,0)',
        backgroundColor: 'rgba(0,0,0,0)',
        fill: false,
        tension: 0,
      });
    });

    const chart = new Chart(canvas, {
      type: 'line',
      data: { datasets },
      plugins: [matlabAxes],
      options: {
        animation: false,
        responsive: false,
        maintainAspectRatio: false,
        events: [],
        layout: { padding: { left: 0, top: PAD_TOP, right: PAD_RIGHT, bottom: 0 } },
        plugins: {
          legend: { display: false },
          tooltip: { enabled: false },
          title: { display: false },
        },
        scales: {
          x: {
            type: 'logarithmic',
            min: 0.138,
            max: 12,
            position: 'bottom',
            afterBuildTicks: (s: any) => {
              s.ticks = X_MAJOR.map((v) => ({ value: v }));
            },
            afterFit: (s: any) => {
              s.height = xH;
            },
            grid: { display: false, drawTicks: false, tickLength: 0 },
            border: { display: false },
            ticks: {
              display: isBottom,
              autoSkip: false,
              maxRotation: 0,
              minRotation: 0,
              padding: 11,
              color: '#262626',
              font: { family: FONT, size: 17 },
              callback: (v: any) => String(v),
            },
            title: {
              display: isBottom,
              text: 'Frequency [Hz]',
              color: '#262626',
              font: { family: FONT, size: 25 },
              padding: 0,
            },
          },
          y: {
            type: 'linear',
            min: 0,
            max: 20,
            afterBuildTicks: (s: any) => {
              s.ticks = Y_TICKS.map((v) => ({ value: v }));
            },
            afterFit: (s: any) => {
              s.width = Y_AXIS_W;
            },
            grid: { display: false, drawTicks: false, tickLength: 0 },
            border: { display: false },
            ticks: {
              display: isLeft,
              padding: 9,
              color: '#262626',
              font: { family: FONT, size: 17 },
            },
          },
        },
      } as any,
    });
    return () => chart.destroy();
  }, [row, col]);

  return (
    <canvas
      ref={ref}
      width={width}
      height={height}
      style={{
        position: 'absolute',
        left: COL_LEFT[col] - Y_AXIS_W,
        top: ROW_TOP[row] - PAD_TOP,
        width,
        height,
      }}
    />
  );
}

function RotatedLabel({ cx, cy, size, children }: { cx: number; cy: number; size: number; children: any }) {
  const w = 240;
  return (
    <div
      style={{
        position: 'absolute',
        left: cx - w / 2,
        top: cy - size / 2,
        width: w,
        height: size,
        lineHeight: `${size}px`,
        fontSize: size,
        textAlign: 'center',
        transform: 'rotate(-90deg)',
        transformOrigin: '50% 50%',
        whiteSpace: 'nowrap',
        color: '#262626',
      }}
    >
      {children}
    </div>
  );
}

function Legend() {
  const items = [
    { y: 431, s: 0 },
    { y: 452, s: 1 },
    { y: 474, s: 2 },
  ];
  return (
    <>
      {items.map(({ y, s }) => (
        <React.Fragment key={s}>
          <div style={{ position: 'absolute', left: 1048, top: y - 1, width: 62, height: 2, background: LINE_COLORS[s] }} />
          <div
            style={{
              position: 'absolute',
              left: 1077,
              top: y - 2,
              width: 4,
              height: 4,
              borderRadius: 2,
              background: LINE_COLORS[s],
            }}
          />
          <div
            style={{
              position: 'absolute',
              left: 1116,
              top: y - 9,
              height: 18,
              lineHeight: '18px',
              fontSize: 16,
              color: '#000',
              whiteSpace: 'nowrap',
            }}
          >
            {POSTURES[s]}
          </div>
        </React.Fragment>
      ))}
    </>
  );
}

export default function App() {
  return (
    <div
      style={{
        position: 'absolute',
        left: 0,
        top: 0,
        width: 1500,
        height: 600,
        background: '#ffffff',
        fontFamily: FONT,
        overflow: 'hidden',
      }}
    >
      <div
        style={{
          position: 'absolute',
          left: 470.5,
          top: 15.5,
          width: 600,
          height: 27,
          lineHeight: '27px',
          fontSize: 27,
          fontWeight: 'bold',
          textAlign: 'center',
          color: '#262626',
        }}
      >
        Roll Response
      </div>
      {COLS.map((c, i) => (
        <div
          key={c}
          style={{
            position: 'absolute',
            left: COL_LEFT[i] + PLOT_W / 2 - 150,
            top: 60,
            width: 300,
            height: 26,
            lineHeight: '26px',
            fontSize: 26,
            fontWeight: 'bold',
            textAlign: 'center',
            color: '#000',
          }}
        >
          {c}
        </div>
      ))}
      {ROWS.map((r, i) => (
        <React.Fragment key={r}>
          <RotatedLabel cx={29} cy={ROW_TOP[i] + PLOT_H / 2} size={27}>
            {r}
          </RotatedLabel>
          <RotatedLabel cx={65.7} cy={ROW_TOP[i] + PLOT_H / 2} size={20}>
            <span>
              [rad.s<sup style={{ fontSize: '80%', lineHeight: 0 }}>2</sup>/m.s
              <sup style={{ fontSize: '80%', lineHeight: 0 }}>2</sup>]
            </span>
          </RotatedLabel>
        </React.Fragment>
      ))}
      {[0, 1, 2].map((r) => [0, 1, 2].map((c) => <Panel key={`${r}-${c}`} row={r} col={c} />))}
      <Legend />
    </div>
  );
}
